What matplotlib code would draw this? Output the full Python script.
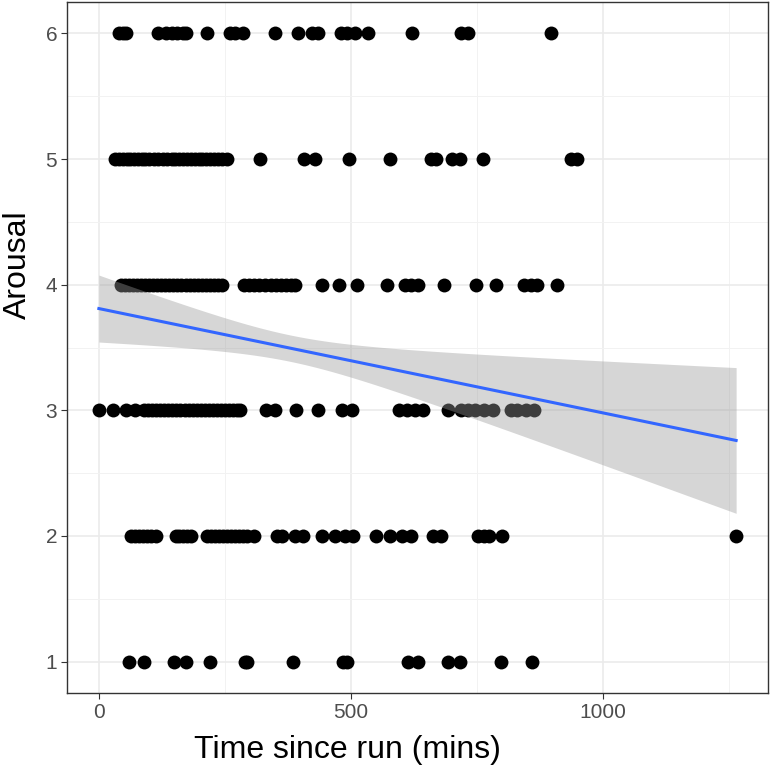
import matplotlib.pyplot as plt
import numpy as np

# time since run (mins) for each arousal level
arousal_6 = [39, 47, 54, 118, 133, 146, 156, 167, 173, 214, 260, 271, 286, 349, 395,
             424, 435, 481, 492, 509, 535, 622, 719, 732, 897]
arousal_5 = [32, 40, 48, 55, 62, 70, 78, 85, 92, 100, 110, 118, 127, 135, 145, 152,
             160, 168, 175, 182, 190, 198, 205, 212, 220, 228, 236, 245, 254, 319,
             407, 429, 497, 578, 660, 670, 700, 716, 762, 938, 950]
arousal_4 = [44, 52, 60, 68, 76, 84, 92, 100, 108, 116, 124, 132, 140, 148, 156, 164,
             172, 180, 188, 196, 204, 212, 220, 228, 236, 245, 288, 298, 308, 318,
             330, 342, 352, 362, 372, 382, 390, 443, 477, 512, 571, 607, 620, 634,
             685, 748, 788, 844, 858, 869, 909]
arousal_3 = [0, 29, 54, 71, 90, 98, 106, 114, 122, 130, 138, 146, 154, 162, 170, 178,
             186, 194, 202, 210, 218, 226, 234, 242, 250, 258, 266, 274, 281, 331,
             350, 391, 434, 482, 502, 595, 611, 627, 644, 693, 719, 732, 746, 765,
             782, 818, 831, 848, 864]
arousal_2 = [64, 72, 80, 88, 96, 104, 113, 153, 160, 168, 175, 183, 215, 223, 231,
             239, 247, 255, 263, 271, 279, 287, 295, 308, 354, 364, 390, 406, 443,
             469, 489, 505, 551, 578, 601, 620, 663, 680, 752, 765, 775, 800, 1265]
arousal_1 = [59, 90, 150, 173, 221, 291, 294, 385, 485, 492, 614, 634, 693, 716, 798, 860]

levels = [6, 5, 4, 3, 2, 1]
rows = [arousal_6, arousal_5, arousal_4, arousal_3, arousal_2, arousal_1]

# linear trend and its confidence band
fit_intercept = 3.81
fit_slope = -0.00083
band_center = 380      # x where the band is narrowest
band_min_half = 0.105  # half-width there
band_end_half = 0.58   # half-width at x = 1265

x = np.concatenate([np.array(r, dtype=float) for r in rows])
y = np.concatenate([np.full(len(r), lv, dtype=float) for r, lv in zip(rows, levels)])

xs = np.linspace(x.min(), x.max(), 100)
ys = fit_intercept + fit_slope * xs
k = (band_end_half ** 2 - band_min_half ** 2) / (x.max() - band_center) ** 2
half = np.sqrt(band_min_half ** 2 + k * (xs - band_center) ** 2)

plt.rcParams['font.family'] = ['Liberation Sans', 'DejaVu Sans']

fig = plt.figure(figsize=(7.74, 7.74), dpi=100)
ax = fig.add_axes([67 / 774, 1 - 693 / 774, 701 / 774, 691 / 774])

ax.scatter(x, y, s=100, color='black', linewidths=0, zorder=2)
ax.fill_between(xs, ys - half, ys + half, color='#999999', alpha=0.4,
                linewidth=0, zorder=3)
ax.plot(xs, ys, color='#3366FF', linewidth=2.2, zorder=4)

ax.set_xlim(-63.25, 1328.25)
ax.set_ylim(0.75, 6.25)
ax.set_xticks([0, 500, 1000])
ax.set_xticks([250, 750, 1250], minor=True)
ax.set_yticks([1, 2, 3, 4, 5, 6])
ax.set_yticks([1.5, 2.5, 3.5, 4.5, 5.5], minor=True)
ax.grid(which='major', color='#EBEBEB', linewidth=1.2, zorder=0)
ax.grid(which='minor', color='#F2F2F2', linewidth=0.7, zorder=0)
ax.set_axisbelow(True)

for sp in ax.spines.values():
    sp.set_color('#333333')
    sp.set_linewidth(1.0)

ax.tick_params(which='major', length=4, width=0.8, color='#333333',
               labelcolor='#4D4D4D', labelsize=15, pad=3)
ax.tick_params(which='minor', length=0)

ax.set_xlabel('Time since run (mins)', fontsize=23)
ax.set_ylabel('Arousal', fontsize=23)
# the axis titles sit left of / above the panel centre in the original
ax.xaxis.set_label_coords((347 - 67) / 701, (693 - 735) / 691)
ax.yaxis.set_label_coords((33 - 67) / 701, (693 - 265) / 691)

fig.savefig('out.png', dpi=100)
